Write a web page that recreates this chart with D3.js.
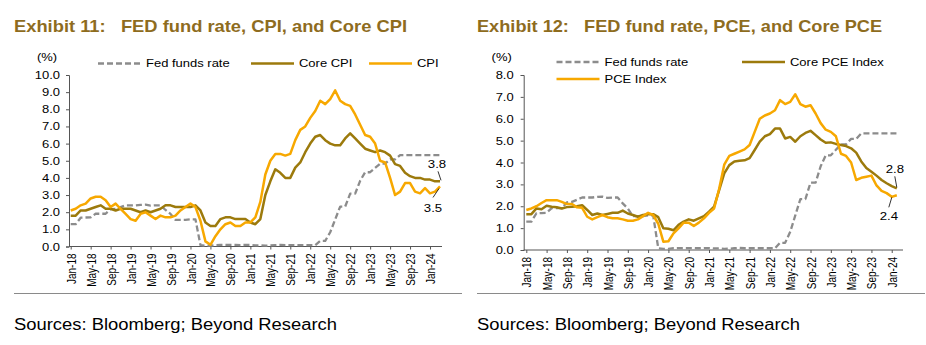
<!DOCTYPE html>
<html>
<head>
<meta charset="utf-8">
<script src="https://cdn.jsdelivr.net/npm/d3@7"></script>
<style>
body { margin: 0; background: #fff; }
text { font-family: Arial, "Liberation Sans", sans-serif; }
</style>
</head>
<body>
<svg width="926" height="345"></svg>
<script>
// x-axis labels, one every 4 months from Jan-18
var tickLabels = ["Jan-18", "May-18", "Sep-18", "Jan-19", "May-19", "Sep-19", "Jan-20", "May-20", "Sep-20",
    "Jan-21", "May-21", "Sep-21", "Jan-22", "May-22", "Sep-22", "Jan-23", "May-23", "Sep-23", "Jan-24"];

// monthly, Jan-18 .. Mar-24
var fedFunds = [1.30, 1.30, 1.68, 1.69, 1.70, 1.91, 1.91, 1.91, 2.18, 2.20, 2.30, 2.40,
    2.40, 2.40, 2.43, 2.44, 2.38, 2.40, 2.40, 2.13, 1.90, 1.55, 1.55, 1.55,
    1.58, 1.58, 0.08, 0.05, 0.05, 0.08, 0.09, 0.09, 0.09, 0.09, 0.08, 0.09,
    0.09, 0.07, 0.07, 0.05, 0.06, 0.08, 0.10, 0.08, 0.08, 0.08, 0.08, 0.08,
    0.08, 0.08, 0.33, 0.33, 0.83, 1.58, 2.33, 2.33, 3.08, 3.08, 3.83, 4.33,
    4.33, 4.58, 4.83, 4.83, 5.08, 5.08, 5.33, 5.33, 5.33, 5.33, 5.33, 5.33,
    5.33, 5.33, 5.33];

var cpi = [2.1, 2.2, 2.4, 2.5, 2.8, 2.9, 2.9, 2.7, 2.3, 2.5, 2.2, 1.9,
    1.6, 1.5, 1.9, 2.0, 1.8, 1.6, 1.8, 1.7, 1.7, 1.8, 2.1, 2.3,
    2.5, 2.3, 1.5, 0.3, 0.1, 0.6, 1.0, 1.3, 1.4, 1.2, 1.2, 1.4,
    1.4, 1.7, 2.6, 4.2, 5.0, 5.4, 5.4, 5.3, 5.4, 6.2, 6.8, 7.0,
    7.5, 7.9, 8.5, 8.3, 8.6, 9.1, 8.5, 8.3, 8.2, 7.7, 7.1, 6.5,
    6.4, 6.0, 5.0, 4.9, 4.0, 3.0, 3.2, 3.7, 3.7, 3.2, 3.1, 3.4,
    3.1, 3.2, 3.5];

var coreCpi = [1.8, 1.8, 2.1, 2.1, 2.2, 2.3, 2.4, 2.2, 2.2, 2.1, 2.2, 2.2,
    2.2, 2.1, 2.0, 2.1, 2.0, 2.1, 2.2, 2.4, 2.4, 2.3, 2.3, 2.3,
    2.3, 2.4, 2.1, 1.4, 1.2, 1.2, 1.6, 1.7, 1.7, 1.6, 1.6, 1.6,
    1.4, 1.3, 1.6, 3.0, 3.8, 4.5, 4.3, 4.0, 4.0, 4.6, 4.9, 5.5,
    6.0, 6.4, 6.5, 6.2, 6.0, 5.9, 5.9, 6.3, 6.6, 6.3, 6.0, 5.7,
    5.6, 5.5, 5.6, 5.5, 5.3, 4.8, 4.7, 4.3, 4.1, 4.0, 4.0, 3.9,
    3.9, 3.8, 3.8];

// monthly, Jan-18 .. Feb-24
var pce = [1.83, 1.90, 2.00, 2.15, 2.28, 2.28, 2.28, 2.20, 2.10, 2.10, 1.95, 1.93,
    1.52, 1.40, 1.50, 1.60, 1.50, 1.45, 1.45, 1.40, 1.34, 1.34, 1.40, 1.55,
    1.70, 1.60, 1.20, 0.38, 0.40, 0.76, 0.99, 1.25, 1.25, 1.10, 1.25, 1.45,
    1.70, 1.90, 2.80, 3.90, 4.30, 4.40, 4.50, 4.60, 4.80, 5.40, 6.00, 6.15,
    6.24, 6.39, 6.85, 6.67, 6.77, 7.12, 6.67, 6.55, 6.62, 6.24, 5.80, 5.50,
    5.40, 5.20, 4.40, 4.30, 4.00, 3.20, 3.30, 3.35, 3.40, 2.95, 2.70, 2.60,
    2.43, 2.50];

var corePce = [1.64, 1.64, 1.90, 1.86, 2.02, 1.98, 1.95, 1.90, 1.96, 1.98, 2.00, 2.05,
    1.83, 1.60, 1.67, 1.60, 1.65, 1.70, 1.70, 1.80, 1.67, 1.60, 1.52, 1.60,
    1.64, 1.64, 1.50, 0.99, 0.97, 0.90, 1.15, 1.30, 1.40, 1.34, 1.45, 1.55,
    1.75, 1.98, 2.74, 3.50, 3.88, 4.05, 4.08, 4.10, 4.20, 4.57, 4.95, 5.20,
    5.30, 5.55, 5.55, 5.10, 5.17, 4.95, 5.20, 5.35, 5.45, 5.25, 5.05, 4.90,
    4.92, 4.85, 4.80, 4.75, 4.65, 4.45, 4.05, 3.75, 3.58, 3.40, 3.20, 3.05,
    2.92, 2.82];

var gold = "#8e6c1e";
var colFed = "#8c8c8c";
var colCore = "#9c7a0c";
var colHead = "#f7a800";
var axisCol = "#555";
var SX = 1.3; // horizontal stretch of the chart text

var svg = d3.select("svg");

function stretched(g, x, y, str, size, sx, anchor) {
    return g.append("text")
        .attr("transform", "translate(" + x + "," + y + ") scale(" + sx + ",1)")
        .attr("text-anchor", anchor || "start")
        .attr("font-size", size)
        .attr("fill", "#000")
        .text(str);
}

function drawChart(cfg) {
    var g = svg.append("g");

    g.append("text")
        .attr("x", cfg.left).attr("y", 32)
        .attr("font-size", 17).attr("font-weight", "bold")
        .attr("fill", gold)
        .attr("textLength", cfg.titleLen).attr("lengthAdjust", "spacingAndGlyphs")
        .style("white-space", "pre")
        .text(cfg.title);

    var n = cfg.series[0].values.length;
    var x = d3.scaleLinear().domain([0, n - 1]).range(cfg.xRange);
    var y = d3.scaleLinear().domain([0, cfg.yMax]).range([cfg.y0, cfg.y1]);

    // y axis
    var yAxis = g.append("g")
        .attr("transform", "translate(" + cfg.axisX + ",0)")
        .call(d3.axisLeft(y).ticks(cfg.yMax).tickFormat(d3.format(".1f")).tickSizeOuter(0).tickSize(3));
    yAxis.select(".domain").attr("stroke", axisCol);
    yAxis.selectAll(".tick line").attr("stroke", axisCol);
    yAxis.selectAll(".tick text")
        .attr("font-size", 10).attr("fill", "#000")
        .attr("x", null).attr("dy", "0.35em")
        .attr("transform", "translate(-" + cfg.ylabGap + ",0) scale(" + SX + ",1)");

    stretched(g, cfg.axisX - 22, 61, "(%)", 10, SX, "middle");

    // x axis
    var tickIdx = tickLabels.map(function (d, i) { return i * 4; });
    var xAxis = g.append("g")
        .attr("transform", "translate(0," + cfg.y0 + ")")
        .call(d3.axisBottom(x).tickValues(tickIdx)
            .tickFormat(function (d, i) { return tickLabels[i]; })
            .tickSizeOuter(0).tickSize(3));
    xAxis.select(".domain").remove();
    xAxis.selectAll(".tick line").attr("stroke", axisCol);
    xAxis.selectAll(".tick text")
        .attr("font-size", 10).attr("fill", "#000")
        .attr("x", -7).attr("y", 0).attr("dy", "0.35em")
        .attr("text-anchor", "end")
        .attr("transform", "scale(" + SX + ",1) rotate(-90)");
    g.append("line")
        .attr("x1", cfg.axisX).attr("x2", cfg.axisEnd)
        .attr("y1", cfg.y0).attr("y2", cfg.y0)
        .attr("stroke", axisCol);

    // lines
    var line = d3.line()
        .x(function (d, i) { return x(i); })
        .y(function (d) { return y(d); });
    cfg.series.forEach(function (s) {
        g.append("path")
            .datum(s.values)
            .attr("fill", "none")
            .attr("stroke", s.color)
            .attr("stroke-width", s.dash ? 2.3 : 2.5)
            .attr("stroke-dasharray", s.dash ? "6,3" : null)
            .attr("stroke-linejoin", "round")
            .attr("d", line);
    });

    // legend
    cfg.legend.forEach(function (l) {
        var s = cfg.series[l.s];
        g.append("line")
            .attr("x1", l.x).attr("x2", l.x + 43)
            .attr("y1", l.y).attr("y2", l.y)
            .attr("stroke", s.color).attr("stroke-width", 2.5)
            .attr("stroke-dasharray", s.dash ? "6,3" : null);
        stretched(g, l.x + 48, l.y + 3.6, s.name, 10, SX);
    });

    // end-point labels
    cfg.notes.forEach(function (a) {
        var s = cfg.series[a.s];
        var v = s.values[n - 1];
        var px = x(n - 1), py = y(v);
        g.append("line")
            .attr("x1", px + a.lx).attr("y1", py + a.ly)
            .attr("x2", px + a.lx2).attr("y2", py + a.ly2)
            .attr("stroke", "#000").attr("stroke-width", 0.8);
        stretched(g, px + a.tx, py + a.ty, a.text, 11, 1.2, "middle");
    });

    // separator and source
    g.append("line")
        .attr("x1", cfg.left).attr("x2", cfg.left + 448)
        .attr("y1", 293.5).attr("y2", 293.5)
        .attr("stroke", "#8a8a8a").attr("stroke-width", 1);
    g.append("text")
        .attr("x", cfg.left).attr("y", 330)
        .attr("font-size", 16).attr("fill", "#000")
        .attr("textLength", 323).attr("lengthAdjust", "spacingAndGlyphs")
        .text("Sources: Bloomberg; Beyond Research");
}

drawChart({
    left: 14,
    title: "Exhibit 11:   FED fund rate, CPI, and Core CPI",
    titleLen: 393,
    axisX: 69, axisEnd: 442,
    xRange: [70.7, 440],
    y0: 246.5, y1: 75, yMax: 10, ylabGap: 9,
    series: [
        { name: "Fed funds rate", values: fedFunds, color: colFed, dash: true },
        { name: "Core CPI", values: coreCpi, color: colCore },
        { name: "CPI", values: cpi, color: colHead }
    ],
    legend: [
        { s: 0, x: 98, y: 63.5 },
        { s: 1, x: 251, y: 63.5 },
        { s: 2, x: 369, y: 63.5 }
    ],
    notes: [
        { s: 1, text: "3.8", lx: -2, ly: -10, lx2: 1, ly2: -1, tx: -3, ty: -13 },
        { s: 2, text: "3.5", lx: -7, ly: 11, lx2: -1, ly2: 2, tx: -7, ty: 26 }
    ]
});

drawChart({
    left: 477,
    title: "Exhibit 12:   FED fund rate, PCE, and Core PCE",
    titleLen: 405,
    axisX: 523.7, axisEnd: 903,
    xRange: [526.3, 896.8],
    y0: 250, y1: 75, yMax: 8, ylabGap: 10,
    series: [
        { name: "Fed funds rate", values: fedFunds.slice(0, pce.length), color: colFed, dash: true },
        { name: "Core PCE Index", values: corePce, color: colCore },
        { name: "PCE Index", values: pce, color: colHead }
    ],
    legend: [
        { s: 0, x: 556.5, y: 62 },
        { s: 1, x: 742, y: 62 },
        { s: 2, x: 556.5, y: 79 }
    ],
    notes: [
        { s: 1, text: "2.8", lx: -2, ly: -12, lx2: 0, ly2: -1, tx: -2, ty: -15 },
        { s: 2, text: "2.4", lx: -8, ly: 12, lx2: -5, ly2: 2, tx: -8, ty: 25 }
    ]
});
</script>
</body>
</html>
